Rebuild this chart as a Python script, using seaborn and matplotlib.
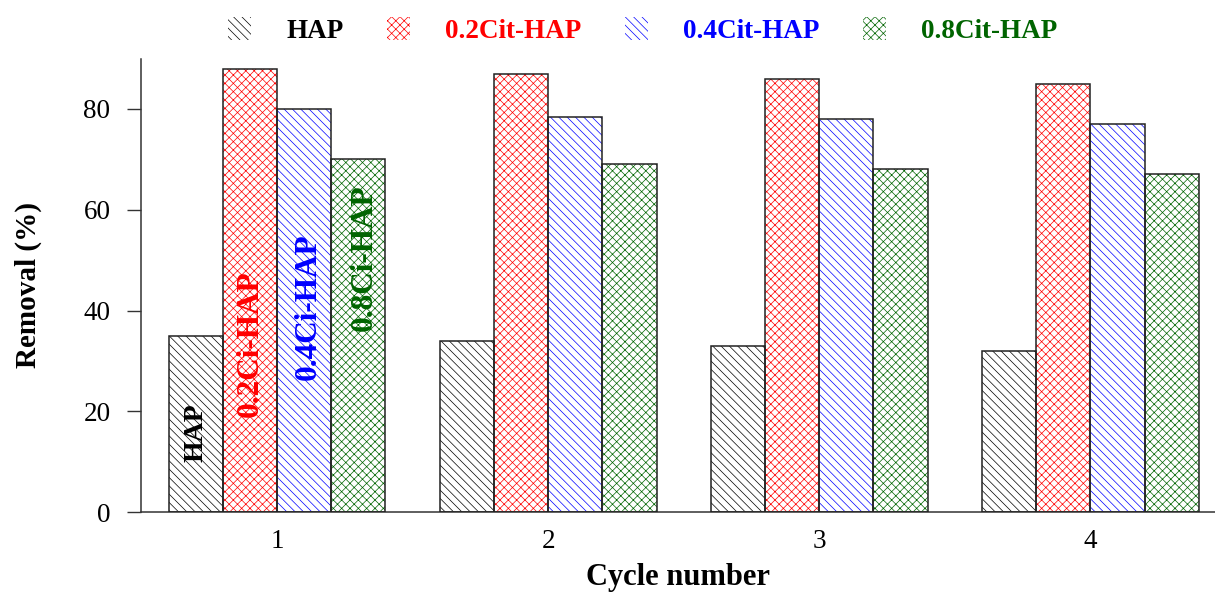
import matplotlib
matplotlib.use("Agg")
import matplotlib.pyplot as plt
from matplotlib.patches import Patch, Rectangle
import seaborn as sns
import pandas as pd

cycles = ["1", "2", "3", "4"]
series = ["HAP", "0.2Cit-HAP", "0.4Cit-HAP", "0.8Cit-HAP"]
hap = [35, 34, 33, 32]
cit02 = [88, 87, 86, 85]
cit04 = [80, 78.5, 78, 77]
cit08 = [70, 69, 68, 67]
inbar_labels = ["HAP", "0.2Ci-HAP", "0.4Ci-HAP", "0.8Ci-HAP"]

colors = ["black", "red", "blue", "#006400"]
hatches = ["\\\\\\\\", "xxxx", "\\\\\\\\", "xxxx"]

sns.set_style("white")
plt.rcParams["font.family"] = ["Liberation Serif", "DejaVu Serif"]
plt.rcParams["hatch.linewidth"] = 0.5
plt.rcParams["text.color"] = "black"
plt.rcParams["axes.labelcolor"] = "black"
plt.rcParams["xtick.color"] = "black"
plt.rcParams["ytick.color"] = "black"

rows = []
for s, vals in zip(series, [hap, cit02, cit04, cit08]):
    for c, v in zip(cycles, vals):
        rows.append({"Cycle": c, "Series": s, "Removal": v})
df = pd.DataFrame(rows)

fig = plt.figure(figsize=(12.15, 5.92), dpi=100)
ax = fig.add_axes([0.116, 0.135, 0.884, 0.766])

sns.barplot(data=df, x="Cycle", y="Removal", hue="Series", order=cycles,
            hue_order=series, palette=["white"] * 4, width=0.8, ax=ax,
            legend=False, errorbar=None, saturation=1)

for cont, col, h in zip(ax.containers, colors, hatches):
    for bar in cont:
        bar.set_facecolor("white")
        bar.set_edgecolor(col)
        bar.set_hatch(h)
        bar.set_linewidth(0)
        ax.add_patch(Rectangle(bar.get_xy(), bar.get_width(), bar.get_height(),
                               fill=False, edgecolor="#222222", linewidth=1.1, zorder=3))

# rotated labels inside first group's bars
label_y = [15.7, 33.5, 40.8, 50.5]
label_dx = [0.0, 0.0, 0.015, 0.02]
label_size = [20, 22.5, 22.5, 22.5]
for cont, col, lab, yy, dx, fs in zip(ax.containers, colors, inbar_labels,
                                      label_y, label_dx, label_size):
    bar = cont[0]
    ax.text(bar.get_x() + bar.get_width() / 2 + dx, yy, lab, rotation=90,
            ha="center", va="center", color=col, fontsize=fs, fontweight="bold", zorder=4)

ax.set_ylim(0, 90)
ax.set_xlim(-0.502, 3.46)
ax.set_yticks([0, 20, 40, 60, 80])
for sp in ["top", "right"]:
    ax.spines[sp].set_visible(False)
for sp in ["left", "bottom"]:
    ax.spines[sp].set_color("#333333")
    ax.spines[sp].set_linewidth(1.1)
ax.tick_params(axis="y", direction="out", length=10, width=1, color="#333333",
               labelcolor="black", labelsize=19.5, pad=12, left=True)
ax.tick_params(axis="x", length=0, labelsize=19.5, pad=12, labelcolor="black")
ax.set_xlabel("Cycle number", fontsize=22, fontweight="bold", labelpad=7, color="black")
ax.set_ylabel("Removal (%)", fontsize=21, fontweight="bold", labelpad=30, color="black")

handles = [Patch(facecolor="white", edgecolor=c, hatch=h, linewidth=0)
           for c, h in zip(colors, hatches)]
leg = fig.legend(handles, series, loc="center", bbox_to_anchor=(0.529, 0.948), ncol=4,
                 frameon=False, handlelength=0.85, handleheight=0.9, handletextpad=1.3,
                 columnspacing=1.6, prop={"size": 19.5, "weight": "bold"})
for t, c in zip(leg.get_texts(), colors):
    t.set_color(c)

fig.savefig("out.png", dpi=100)
